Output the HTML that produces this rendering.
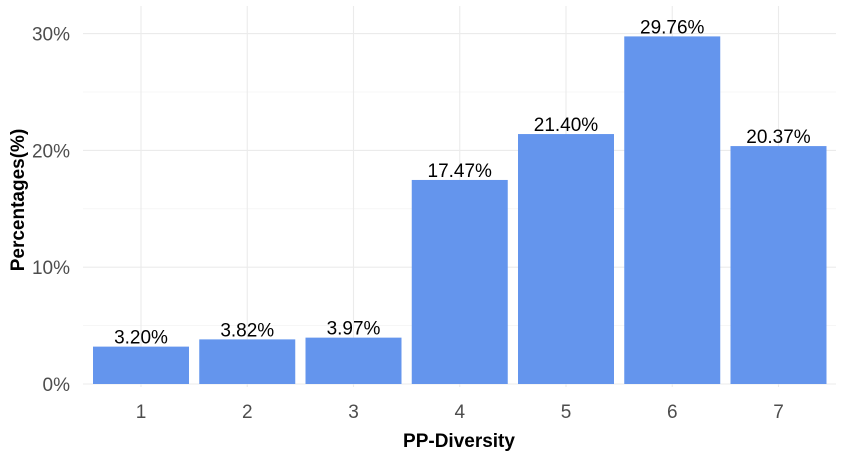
<!DOCTYPE html>
<html><head><meta charset="utf-8"><style>
body{margin:0;background:#fff;}
svg{display:block;font-family:"Liberation Sans",Arial,sans-serif;}
</style></head><body>
<svg id="chart" width="850" height="460"></svg>
<script>
const categories=["1","2","3","4","5","6","7"];
const values=[3.20,3.82,3.97,17.47,21.40,29.76,20.37];
const yTicks=[0,10,20,30];
const yTickLabels=["0%","10%","20%","30%"];
const NS="http://www.w3.org/2000/svg";
const svg=document.getElementById("chart");
const x0=83,x1=836,yTop=6,yBase=384,pxPer=11.68;
const step=106.25;
function xC(i){return 141+i*step;}
function yS(v){return yBase-v*pxPer;}
function mk(tag,attrs,txt){const e=document.createElementNS(NS,tag);for(const k in attrs)e.setAttribute(k,attrs[k]);if(txt!==undefined)e.textContent=txt;svg.appendChild(e);return e;}
for(let t=5;t<35;t+=10){const g=mk("line",{x1:x0,x2:x1,y1:yS(t),y2:yS(t),stroke:"#f0f0f0","stroke-width":0.6});

}
yTicks.forEach((t,i)=>{
const g=mk("line",{x1:x0,x2:x1,y1:yS(t),y2:yS(t),stroke:"#ebebeb","stroke-width":1.1});


const l=mk("text",{x:x0-13,y:yS(t)+7,"text-anchor":"end","font-size":19,fill:"#4d4d4d"},yTickLabels[i]);


});
categories.forEach((c,i)=>{
const g=mk("line",{x1:xC(i),x2:xC(i),y1:yTop,y2:yBase+3,stroke:"#ebebeb","stroke-width":1.1});


});
categories.forEach((c,i)=>{
const w=96;
const b=mk("rect",{x:xC(i)-w/2,y:yS(values[i]),width:w,height:yBase-yS(values[i]),fill:"#6495ED"});


const v=mk("text",{x:xC(i),y:yS(values[i])-3,"text-anchor":"middle","font-size":19,fill:"#000"},values[i].toFixed(2)+"%");


const l=mk("text",{x:xC(i),y:418,"text-anchor":"middle","font-size":19,fill:"#4d4d4d"},c);


});
const xt=mk("text",{x:459,y:447,"text-anchor":"middle","font-size":19,"font-weight":"bold",fill:"#000"},"PP-Diversity");


const yt=mk("text",{x:0,y:0,"text-anchor":"middle","font-size":19,"font-weight":"bold",fill:"#000",transform:"translate(24,200) rotate(-90)"},"Percentages(%)");


</script>
</body></html>
